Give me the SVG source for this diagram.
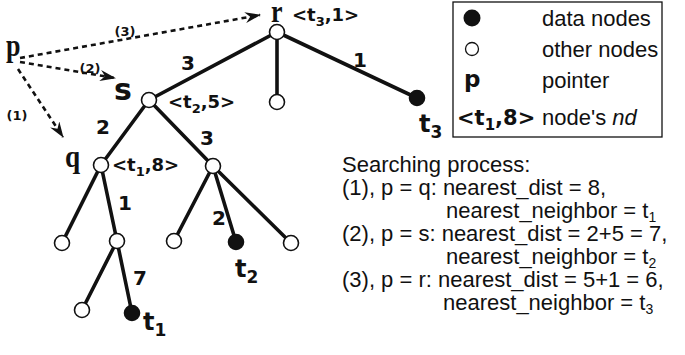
<svg xmlns="http://www.w3.org/2000/svg" width="685" height="355" viewBox="0 0 685 355">
<style>
.e{stroke:#111;stroke-width:3.6;fill:none;stroke-linecap:round}
.d{stroke:#111;stroke-width:2.6;fill:none;stroke-dasharray:5 4}
.o{fill:#fff;stroke:#111;stroke-width:1.6}
.f{fill:#111;stroke:#111;stroke-width:1.6}
.b{font-family:"DejaVu Sans",Verdana,sans-serif;font-weight:bold;fill:#111}
.sf{font-family:"Liberation Serif","Times New Roman",serif;font-weight:bold;fill:#111;font-size:26px}
.n{font-family:"Liberation Sans",Arial,sans-serif;fill:#111;font-size:22px}
.el{font-size:20px;text-anchor:middle}
.tag{font-size:18px}
.sub{font-size:13px}
</style>
<defs>
<marker id="ah" viewBox="0 0 16 11" refX="15" refY="5.5" markerWidth="16" markerHeight="11" markerUnits="userSpaceOnUse" orient="auto">
<path d="M0,0 L16,5.5 L0,11 L5,5.5 z" fill="#111"/>
</marker>
</defs>
<g id="connectors">
<line class="e" x1="277" y1="32" x2="149" y2="100"/>
<line class="e" x1="277" y1="32" x2="277" y2="102"/>
<line class="e" x1="277" y1="32" x2="417" y2="98"/>
<line class="e" x1="149" y1="100" x2="101" y2="165"/>
<line class="e" x1="149" y1="100" x2="213" y2="166"/>
<line class="e" x1="101" y1="165" x2="62" y2="243"/>
<line class="e" x1="101" y1="165" x2="117" y2="241"/>
<line class="e" x1="117" y1="241" x2="82" y2="310"/>
<line class="e" x1="117" y1="241" x2="132" y2="313"/>
<line class="e" x1="213" y1="166" x2="174" y2="241"/>
<line class="e" x1="213" y1="166" x2="236" y2="242"/>
<line class="e" x1="213" y1="166" x2="291" y2="243"/>
<path class="d" d="M20,58 L260,15" marker-end="url(#ah)"/>
<path class="d" d="M20,62 L115,78" marker-end="url(#ah)"/>
<path class="d" d="M18,69 L63,137" marker-end="url(#ah)"/>
<text class="b el" x="188" y="70">3</text>
<text class="b el" x="360" y="67">1</text>
<text class="b el" x="103" y="134">2</text>
<text class="b el" x="207" y="145">3</text>
<text class="b el" x="125" y="210">1</text>
<text class="b el" x="140" y="285">7</text>
<text class="b el" x="219" y="225">2</text>
<text class="b" font-size="13" x="125" y="36" text-anchor="middle">(3)</text>
<text class="b" font-size="13" x="90" y="73" text-anchor="middle">(2)</text>
<text class="b" font-size="13" x="17" y="120" text-anchor="middle">(1)</text>
</g>
<g id="p"><text class="sf" transform="translate(6,56) scale(1,1.25)">p</text></g>
<g id="r">
<circle class="o" cx="277" cy="32" r="7.5"/>
<text class="sf" transform="translate(271,22) scale(1,1.2)">r</text>
<text class="b tag" x="292" y="21">&lt;t<tspan class="sub" dy="5">3</tspan><tspan dy="-5">,1&gt;</tspan></text>
</g>
<g id="s">
<circle class="o" cx="149" cy="100" r="7.5"/>
<text class="b" font-size="30" x="114" y="100">s</text>
<text class="b tag" x="168" y="108">&lt;t<tspan class="sub" dy="5">2</tspan><tspan dy="-5">,5&gt;</tspan></text>
</g>
<g id="q">
<circle class="o" cx="101" cy="165" r="7.5"/>
<text class="sf" transform="translate(65,167) scale(1.05,1.2)">q</text>
<text class="b tag" x="112" y="171">&lt;t<tspan class="sub" dy="5">1</tspan><tspan dy="-5">,8&gt;</tspan></text>
</g>
<g id="rmid"><circle class="o" cx="277" cy="102" r="7.5"/></g>
<g id="t3">
<circle class="f" cx="417" cy="98" r="7.5"/>
<text class="b" font-size="24" x="419" y="132">t<tspan font-size="17" dy="6">3</tspan></text>
</g>
<g id="srt"><circle class="o" cx="213" cy="166" r="7.5"/></g>
<g id="ql"><circle class="o" cx="62" cy="243" r="7.5"/></g>
<g id="qm"><circle class="o" cx="117" cy="241" r="7.5"/></g>
<g id="qml"><circle class="o" cx="82" cy="310" r="7.5"/></g>
<g id="t1">
<circle class="f" cx="132" cy="313" r="7.5"/>
<text class="b" font-size="24" x="143" y="330">t<tspan font-size="17" dy="6">1</tspan></text>
</g>
<g id="sl"><circle class="o" cx="174" cy="241" r="7.5"/></g>
<g id="t2">
<circle class="f" cx="236" cy="242" r="7.5"/>
<text class="b" font-size="24" x="235" y="277">t<tspan font-size="17" dy="6">2</tspan></text>
</g>
<g id="sr"><circle class="o" cx="291" cy="243" r="7.5"/></g>
<g id="legend">
<rect x="453" y="2" width="209" height="135" fill="#fff" stroke="#111" stroke-width="1.3"/>
<circle cx="472" cy="18" r="8.5" fill="#111"/>
<text class="n" x="542" y="26">data nodes</text>
<circle cx="472" cy="49" r="6.5" fill="#fff" stroke="#111" stroke-width="1.3"/>
<text class="n" x="542" y="57">other nodes</text>
<text class="b" font-size="23" x="464" y="87">p</text>
<text class="n" x="542" y="88">pointer</text>
<text class="b" font-size="21" x="457" y="125">&lt;t<tspan font-size="15" dy="5">1</tspan><tspan dy="-5">,8&gt;</tspan></text>
<text class="n" x="542" y="125">node's <tspan font-style="italic">nd</tspan></text>
</g>
<g id="process">
<text class="n" x="342" y="172">Searching process:</text>
<text class="n" x="342" y="195">(1), p = q: nearest_dist = 8,</text>
<text class="n" x="446" y="218">nearest_neighbor = t<tspan font-size="14" dy="4">1</tspan></text>
<text class="n" x="342" y="241">(2), p = s: nearest_dist = 2+5 = 7,</text>
<text class="n" x="446" y="264">nearest_neighbor = t<tspan font-size="14" dy="4">2</tspan></text>
<text class="n" x="342" y="287">(3), p = r: nearest_dist = 5+1 = 6,</text>
<text class="n" x="443" y="310">nearest_neighbor = t<tspan font-size="14" dy="4">3</tspan></text>
</g>
</svg>
